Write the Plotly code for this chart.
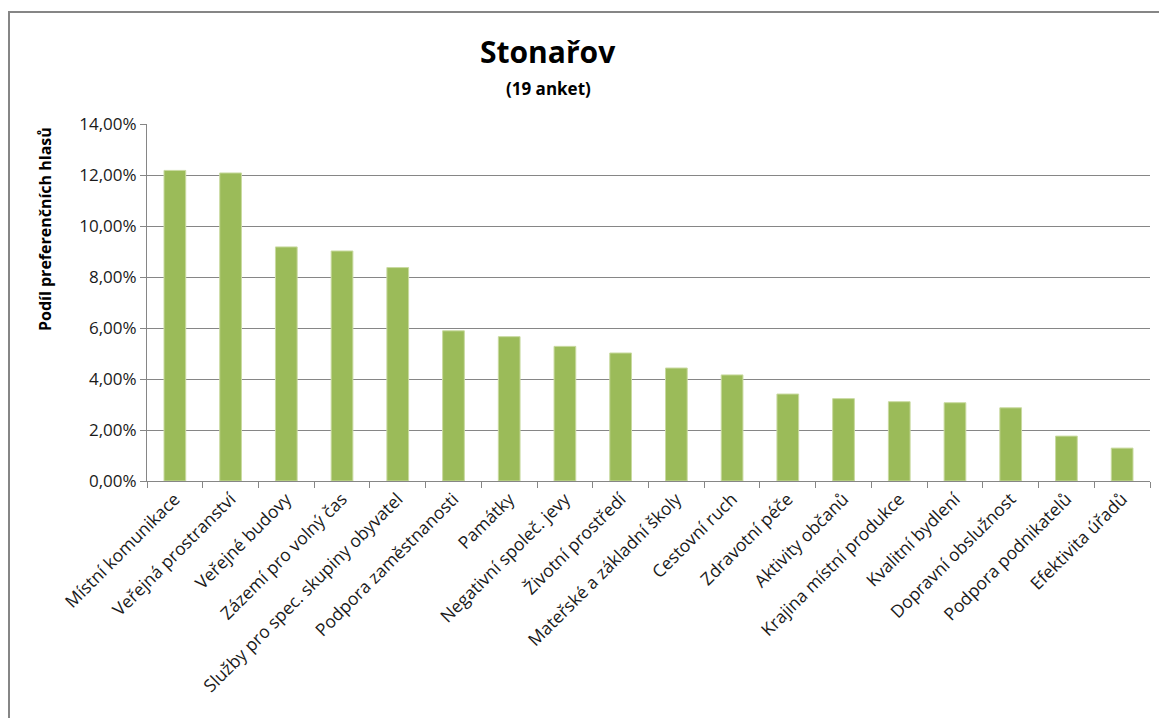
import plotly.graph_objects as go

W, H = 1159, 718

categories = [
    "Místní komunikace", "Veřejná prostranství", "Veřejné budovy",
    "Zázemí pro volný čas", "Služby pro spec. skupiny obyvatel",
    "Podpora zaměstnanosti", "Památky", "Negativní společ. jevy",
    "Životní prostředí", "Mateřské a základní školy", "Cestovní ruch",
    "Zdravotní péče", "Aktivity občanů", "Krajina místní produkce",
    "Kvalitní bydlení", "Dopravní obslužnost", "Podpora podnikatelů",
    "Efektivita úřadů",
]
share_pct = [12.18, 12.08, 9.18, 9.02, 8.37, 5.89, 5.66, 5.28, 5.02, 4.43,
             4.16, 3.41, 3.23, 3.11, 3.07, 2.87, 1.76, 1.29]
y_ticks_pct = [0, 2, 4, 6, 8, 10, 12, 14]

title_text = "Stonařov"
subtitle_text = "(19 anket)"
y_title = "Podíl preferenčních hlasů"

FONT = "Open Sans"
GRID = "#868686"

# plot area in pixels
px_l, px_r, px_t, px_b = 147, 1150, 124, 481

def xp(px):
    return px / W

def yp(py):
    return 1 - py / H

fig = go.Figure()
fig.add_trace(go.Bar(
    x=categories,
    y=[v / 100 for v in share_pct],
    marker=dict(color="#9BBB59", line=dict(color="#C9DAA0", width=1)),
    width=0.39,
    showlegend=False,
))

fig.update_layout(
    width=W, height=H,
    margin=dict(l=0, r=0, t=0, b=0, autoexpand=False),
    paper_bgcolor="white", plot_bgcolor="white",
    separators=", ",
    font=dict(family=FONT, color="#1a1a1a"),
    xaxis=dict(
        domain=[xp(px_l), xp(px_r)],
        automargin=False,
        type="category",
        tickson="boundaries",
        ticks="outside", ticklen=6, tickcolor=GRID,
        showline=True, linecolor=GRID, linewidth=1,
        showgrid=False,
        tickangle=-45,
        tickfont=dict(family=FONT, size=17.5, color="#1a1a1a"),
    ),
    yaxis=dict(
        domain=[yp(px_b), yp(px_t)],
        automargin=False,
        range=[0, 0.14],
        tickvals=[v / 100 for v in y_ticks_pct],
        tickformat=".2%",
        ticks="outside", ticklen=6, tickcolor=GRID,
        showline=True, linecolor=GRID, linewidth=1,
        showgrid=True, gridcolor=GRID, gridwidth=1,
        zeroline=False,
        tickfont=dict(family=FONT, size=17, color="#1a1a1a"),
    ),
    annotations=[
        dict(text=title_text, x=xp(548), y=yp(51), xref="paper", yref="paper",
             showarrow=False, xanchor="center", yanchor="middle",
             font=dict(family=FONT, size=30, color="#000000", weight="bold")),
        dict(text=subtitle_text, x=xp(548), y=yp(88), xref="paper", yref="paper",
             showarrow=False, xanchor="center", yanchor="middle",
             font=dict(family=FONT, size=17, color="#000000", weight="bold")),
        dict(text=y_title, x=xp(45), y=yp(229), xref="paper", yref="paper",
             showarrow=False, xanchor="center", yanchor="middle", textangle=-90,
             font=dict(family=FONT, size=16, color="#000000", weight="bold")),
    ],
    shapes=[
        dict(type="path", xref="paper", yref="paper",
             path=f"M {xp(9)},{yp(H + 5)} L {xp(9)},{yp(12)} L {xp(W + 5)},{yp(12)}",
             line=dict(color=GRID, width=2)),
    ],
)

fig.write_html(
    "out.html",
    config={"responsive": False, "displayModeBar": False},
    post_script="document.body.style.margin='0';document.body.style.overflow='hidden';",
)
